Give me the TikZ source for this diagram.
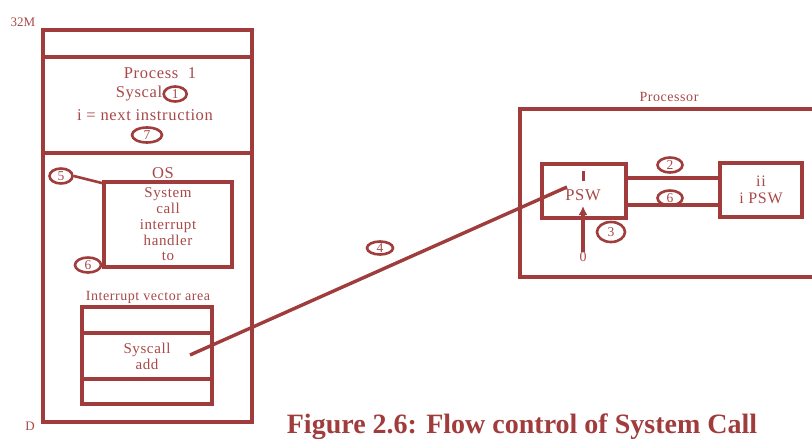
\documentclass[tikz,border=0pt]{standalone}
\usepackage{fontspec}
\setmainfont{Liberation Serif}
\newfontfamily\scSpaced[LetterSpace=4]{Liberation Serif}
\usetikzlibrary{calc,positioning,shapes.geometric,arrows.meta}
\definecolor{SCLine}{HTML}{A03C3C}
\definecolor{SCText}{HTML}{A84848}
\tikzset{
  scBox/.style={
    draw=SCLine,
    line width=3.8pt,
    inner sep=0pt,
    text=SCText,
    align=center,
    font=\scSpaced\fontsize{15pt}{15.8pt}\selectfont
  },
  scText/.style={
    text=SCText,
    inner sep=0pt,
    align=center,
    font=\scSpaced\fontsize{16.5pt}{17pt}\selectfont
  },
  scSmall/.style={
    scText,
    font=\scSpaced\fontsize{14pt}{15pt}\selectfont
  },
  scNum/.style={
    ellipse,
    draw=SCLine,
    line width=2.6pt,
    text=SCText,
    inner sep=0pt,
    minimum width=25pt,
    minimum height=15pt,
    font=\fontsize{13.5pt}{13.5pt}\selectfont
  },
  scLink/.style={
    draw=SCLine,
    line width=3.4pt
  },
  scArrow/.style={
    scLink,
    -{Latex[length=9pt,width=9pt]}
  }
}
\begin{document}
\begin{tikzpicture}[x=1pt, y=-1pt]
        \useasboundingbox (0,0) rectangle (812,439);
        % memory
        \node (mTop) [scBox, minimum width=209pt, minimum height=27pt] at (147.5,43.5) {};
        \node (mProc) [scBox, minimum width=209pt, minimum height=96pt] at (147.5,105) {};
        \node (mOS) [scBox, minimum width=209pt, minimum height=269pt] at (147.5,287.5) {};
        \node (top) [scSmall, font=\fontsize{13pt}{14pt}\selectfont] at (23,22) {32M};
        \node (bot) [scSmall, font=\fontsize{13pt}{14pt}\selectfont] at (30,426) {D};

        \node (p1) [scText] at (160,73) {Process~~1};
        \node (p2) [scText] at (139,94) {Syscal};
        \node (n1) [scNum, minimum width=23pt, right=0pt of p2] {1};
        \node (p3) [scText] at (145,115) {i = next instruction};
        \node (n7) [scNum, minimum width=30pt] at (147,135) {7};

        \node (os) [scText] at (163,173) {OS};
        \node (handler) [scBox, minimum width=128pt, minimum height=85pt] at (168,224.5)
          {System\\call\\interrupt\\handler\\to};
        \node (n5) [scNum, minimum width=23pt] at (61,176) {5};
        \node (n6a) [scNum, minimum width=26pt] at (88,265) {6};

        \node (ivt) [scSmall] at (148,297) {Interrupt vector area};
        \node (vTop) [scBox, minimum width=130pt, minimum height=26pt] at (147,320) {};
        \node (vMid) [scBox, minimum width=130pt, minimum height=46pt] at (147,356) {Syscall\\add};
        \node (vBot) [scBox, minimum width=130pt, minimum height=25pt] at (147,391.5) {};

        % processor
        \node (proc) [scBox, minimum width=310pt, minimum height=168pt] at (675,193) {};
        \node (procLbl) [scSmall] at (669,97) {Processor};
        \node (psw) [scBox, minimum width=84pt, minimum height=54pt] at (584,191) {};
        \node (pswTxt) [scText] at (583,195) {PSW};
        \node (ipsw) [scBox, minimum width=82pt, minimum height=54pt, font=\scSpaced\fontsize{16pt}{16.5pt}\selectfont] at (761,190) {ii\\i PSW};
        \node (n2) [scNum] at (670,165) {2};
        \node (n6b) [scNum] at (670,198) {6};
        \node (n3) [scNum, minimum width=28pt, minimum height=20pt] at (611,232) {3};
        \node (zero) [scSmall] at (583,257) {0};
        \node (n4) [scNum, minimum width=26pt, minimum height=13pt] at (380,248) {4};

        \coordinate (busA) at (670,178);
        \coordinate (busB) at (670,205);
        \coordinate (sysPtr) at (190,355);
        \coordinate (pswIn) at (567,187);
        \coordinate (pswTip) at (583,206);

        \draw [scLink] (psw.east |- busA) -- (ipsw.west |- busA);
        \draw [scLink] (psw.east |- busB) -- (ipsw.west |- busB);
        \draw [scLink, line width=3pt] (583,171) -- (583,181);
        \draw [scArrow] (zero.north) -- (pswTip);
        \draw [scLink] (sysPtr) -- (pswIn);
        \draw [scLink, line width=2.6pt] (n5.east) -- ($(handler.north west)+(0,3)$);

        % caption
        \node (cap) [anchor=base, text=SCLine, font=\bfseries\fontsize{28pt}{30pt}\selectfont] at (522,433)
          {Figure 2.6: Flow control of System Call};
      \end{tikzpicture}
\end{document}
